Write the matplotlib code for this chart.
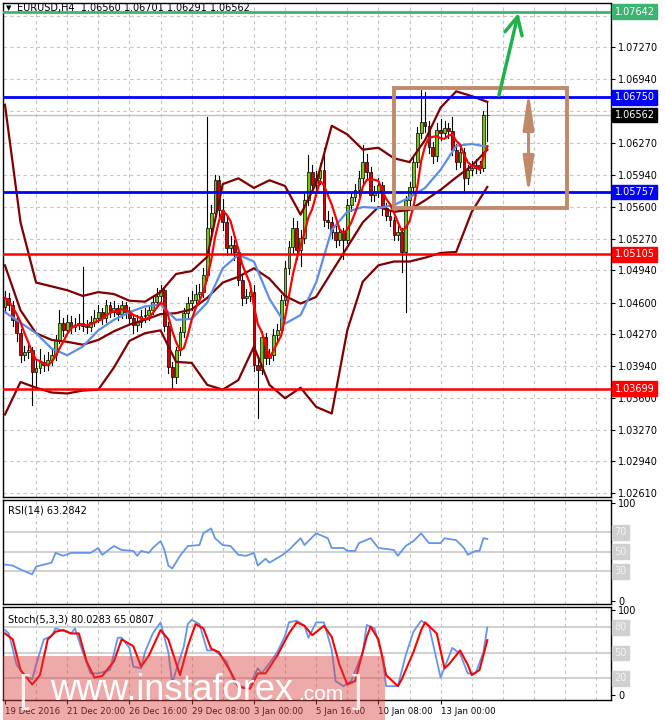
import numpy as np
import pandas as pd
import matplotlib
matplotlib.use('Agg')
import matplotlib.pyplot as plt
from matplotlib.patches import Rectangle

# ---- candles (EURUSD H4) ----
first_open = 1.0455
closes = [1.0465, 1.0458, 1.0442, 1.0428, 1.0405, 1.0408, 1.0410, 1.0387,
          1.0392, 1.0398, 1.0395, 1.0400, 1.0405, 1.0421, 1.0439, 1.0431,
          1.0440, 1.0434, 1.0437, 1.0439, 1.0436, 1.0435, 1.0440, 1.0444,
          1.0450, 1.0444, 1.0457, 1.0450, 1.0454, 1.0448, 1.0457, 1.0450,
          1.0444, 1.0437, 1.0440, 1.0446, 1.0447, 1.0452, 1.0461, 1.0467,
          1.0473, 1.0436, 1.0393, 1.0382, 1.0410, 1.0429, 1.0449, 1.0460,
          1.0463, 1.0469, 1.0471, 1.0489, 1.0538, 1.0554, 1.0588, 1.0557,
          1.0544, 1.0517, 1.0520, 1.0513, 1.0484, 1.0465, 1.0467, 1.0471,
          1.0395, 1.0390, 1.0424, 1.0402, 1.0405, 1.0426, 1.0431, 1.0463,
          1.0496, 1.0518, 1.0538, 1.0515, 1.0528, 1.0567, 1.0597, 1.0583,
          1.0590, 1.0599, 1.0546, 1.0544, 1.0534, 1.0526, 1.0534, 1.0526,
          1.0562, 1.0570, 1.0578, 1.0590, 1.0607, 1.0597, 1.0573, 1.0576,
          1.0583, 1.0559, 1.0551, 1.0546, 1.0531, 1.0534, 1.0513, 1.0567,
          1.0581, 1.0607, 1.0637, 1.0649, 1.0645, 1.0623, 1.0613, 1.0641,
          1.0637, 1.0643, 1.0639, 1.0620, 1.0607, 1.0618, 1.0590, 1.0599,
          1.0601, 1.0604, 1.0601, 1.0656, 1.06562]
highs = [1.0472, 1.0470, 1.0462, 1.0446, 1.0432, 1.0415, 1.0418, 1.0414,
         1.0400, 1.0412, 1.0405, 1.0408, 1.0412, 1.0426, 1.0452, 1.0444,
         1.0447, 1.0446, 1.0444, 1.0448, 1.0497, 1.0442, 1.0446, 1.0452,
         1.0457, 1.0454, 1.0463, 1.0461, 1.0462, 1.0458, 1.0462, 1.0461,
         1.0455, 1.0448, 1.0447, 1.0452, 1.0454, 1.0458, 1.0466, 1.0475,
         1.0478, 1.0476, 1.0440, 1.0398, 1.0414, 1.0434, 1.0454, 1.0466,
         1.0472, 1.0478, 1.0480, 1.0496, 1.0654, 1.0562, 1.0594, 1.0592,
         1.0568, 1.0550, 1.0530, 1.0526, 1.0518, 1.0490, 1.0474, 1.0480,
         1.0478, 1.0404, 1.0430, 1.0428, 1.0412, 1.0432, 1.0438, 1.0468,
         1.0504, 1.0524, 1.0548, 1.0545, 1.0536, 1.0574, 1.0614, 1.0604,
         1.0598, 1.0606, 1.0622, 1.0556, 1.0550, 1.0540, 1.0540, 1.0538,
         1.0568, 1.0576, 1.0584, 1.0598, 1.0625, 1.0615, 1.0602, 1.0582,
         1.0590, 1.0586, 1.0564, 1.0556, 1.0550, 1.0540, 1.0538, 1.0572,
         1.0586, 1.0612, 1.0644, 1.0682, 1.0680, 1.0650, 1.0628, 1.0648,
         1.0652, 1.0650, 1.0648, 1.0654, 1.0626, 1.0624, 1.0622, 1.0604,
         1.0608, 1.0610, 1.0608, 1.0660, 1.06701]
lows = [1.0450, 1.0452, 1.0436, 1.0420, 1.0398, 1.0400, 1.0402, 1.0353,
        1.0370, 1.0386, 1.0388, 1.0390, 1.0395, 1.0400, 1.0418, 1.0425,
        1.0427, 1.0428, 1.0430, 1.0432, 1.0430, 1.0428, 1.0430, 1.0436,
        1.0440, 1.0438, 1.0440, 1.0445, 1.0446, 1.0442, 1.0444, 1.0444,
        1.0438, 1.0428, 1.0430, 1.0434, 1.0440, 1.0442, 1.0448, 1.0456,
        1.0462, 1.0430, 1.0386, 1.0371, 1.0376, 1.0405, 1.0424, 1.0444,
        1.0452, 1.0458, 1.0462, 1.0466, 1.0484, 1.0530, 1.0548, 1.0550,
        1.0536, 1.0510, 1.0512, 1.0505, 1.0478, 1.0458, 1.0460, 1.0462,
        1.0388, 1.0339, 1.0385, 1.0396, 1.0396, 1.0400, 1.0420, 1.0426,
        1.0458, 1.0490, 1.0512, 1.0506, 1.0498, 1.0522, 1.0562, 1.0576,
        1.0578, 1.0584, 1.0540, 1.0538, 1.0528, 1.0518, 1.0520, 1.0506,
        1.0522, 1.0556, 1.0566, 1.0572, 1.0585, 1.0590, 1.0566, 1.0566,
        1.0570, 1.0552, 1.0546, 1.0540, 1.0525, 1.0526, 1.0492, 1.0450,
        1.0560, 1.0576, 1.0602, 1.0632, 1.0638, 1.0616, 1.0606, 1.0608,
        1.0630, 1.0632, 1.0632, 1.0614, 1.0600, 1.0602, 1.0578, 1.0584,
        1.0594, 1.0596, 1.0596, 1.0598, 1.06291]

# ---- indicator lines, read every 4 bars ----
line_bars = list(range(0, 125, 4))
bb_upper = [1.0667, 1.0544, 1.0481, 1.0477, 1.0473, 1.0467, 1.0471, 1.0469,
            1.0462, 1.0461, 1.0471, 1.0490, 1.0493, 1.0508, 1.0584, 1.0590,
            1.0580, 1.0588, 1.0582, 1.0552, 1.0585, 1.0645, 1.0636, 1.0620,
            1.0622, 1.0611, 1.0607, 1.0630, 1.0664, 1.0681, 1.0676, 1.0670]
bb_mid = [1.0499, 1.0452, 1.0428, 1.0421, 1.0419, 1.0416, 1.0421, 1.0430,
          1.0437, 1.0442, 1.0448, 1.0449, 1.0453, 1.0465, 1.0481, 1.0487,
          1.0496, 1.0485, 1.0467, 1.0459, 1.0466, 1.0492, 1.0518, 1.0544,
          1.0560, 1.0555, 1.0557, 1.0567, 1.0578, 1.0591, 1.0603, 1.0620]
bb_lower = [1.0343, 1.0377, 1.0371, 1.0366, 1.0365, 1.0368, 1.0369, 1.0392,
            1.0420, 1.0428, 1.0431, 1.0398, 1.0397, 1.0374, 1.0369, 1.0379,
            1.0414, 1.0374, 1.0360, 1.0371, 1.0351, 1.0344, 1.0431, 1.0482,
            1.0499, 1.0503, 1.0503, 1.0507, 1.0512, 1.0513, 1.0555, 1.0581]
ma_slow = [1.0450, 1.0439, 1.0428, 1.0412, 1.0405, 1.0414, 1.0431, 1.0442,
           1.0450, 1.0456, 1.0458, 1.0442, 1.0443, 1.0460, 1.0496, 1.0510,
           1.0503, 1.0464, 1.0438, 1.0447, 1.0481, 1.0536, 1.0555, 1.0560,
           1.0559, 1.0562, 1.0570, 1.0580, 1.0599, 1.0624, 1.0626, 1.0623]

# ---- levels ----
target_level = 1.07642
blue_levels = [1.06750, 1.05757]
red_levels = [1.05105, 1.03699]
bid = 1.06562
price_ticks = [1.02610, 1.02940, 1.03270, 1.03600, 1.03940, 1.04270, 1.04600,
               1.04940, 1.05270, 1.05600, 1.05940, 1.06270, 1.06600, 1.06940,
               1.07270, 1.07600]
hidden_ticks = [1.06600, 1.07600]  # covered by the price boxes

# ---- RSI(14) ----
rsi_bars = [0, 2, 4, 7, 8, 12, 13, 15, 17, 22, 24, 25, 28, 30, 33, 34, 35, 37,
            38, 40, 41, 42, 43, 45, 47, 50, 51, 53, 54, 56, 58, 60, 62, 64, 65,
            67, 68, 71, 73, 76, 77, 80, 83, 84, 87, 88, 90, 91, 94, 96, 100,
            101, 103, 105, 107, 109, 112, 113, 116, 118, 119, 121, 122, 123, 124]
rsi_vals = [37, 36, 32, 27, 35, 39, 49, 46, 49, 49, 54, 47, 56, 52, 51, 46, 51,
            49, 54, 61, 52, 36, 33, 46, 56, 57, 69, 74, 64, 57, 56, 47, 46, 49,
            36, 43, 39, 46, 52, 64, 57, 69, 64, 54, 54, 51, 51, 59, 64, 54, 52,
            46, 56, 61, 69, 59, 59, 64, 62, 54, 47, 51, 51, 64, 63.3]

# ---- Stoch(5,3,3) ----
k_bars = [0, 1, 3, 5, 7, 8, 10, 12, 13, 15, 17, 18, 20, 22, 24, 27, 29, 30, 32,
          33, 35, 36, 38, 40, 42, 43, 46, 47, 48, 50, 52, 54, 57, 59, 62, 63,
          65, 66, 68, 70, 72, 73, 75, 77, 78, 80, 82, 84, 85, 87, 89, 92, 93,
          95, 97, 98, 101, 103, 105, 107, 109, 112, 115, 117, 119, 121, 123, 124]
k_vals = [77, 73, 36, 24, 19, 36, 66, 70, 79, 76, 73, 79, 51, 26, 26, 30, 68,
          68, 56, 34, 32, 51, 73, 86, 51, 15, 58, 84, 89, 84, 53, 53, 40, 15,
          8, 13, 32, 26, 38, 51, 70, 86, 88, 82, 68, 86, 86, 54, 17, 11, 17,
          51, 83, 79, 47, 11, 11, 47, 75, 88, 82, 21, 56, 49, 26, 26, 51, 80]
d_bars = [0, 2, 4, 7, 9, 11, 13, 15, 17, 19, 21, 23, 25, 28, 30, 33, 35, 37, 40,
          42, 45, 47, 49, 51, 53, 55, 58, 60, 63, 65, 67, 70, 73, 75, 77, 79,
          82, 84, 86, 88, 90, 93, 94, 96, 98, 101, 102, 105, 107, 108, 111,
          113, 114, 117, 119, 120, 122, 124]
d_vals = [73, 66, 30, 13, 24, 66, 75, 77, 73, 73, 40, 21, 23, 40, 66, 58, 34,
          47, 77, 66, 24, 58, 84, 79, 55, 51, 28, 10, 8, 26, 26, 47, 73, 86, 82,
          71, 82, 69, 36, 13, 17, 69, 81, 66, 24, 11, 19, 51, 77, 86, 73, 32,
          36, 53, 36, 24, 30, 65.1]

date_bars = [0, 16, 32, 48, 64, 80, 96, 112]
date_labels = ['19 Dec 2016', '21 Dec 20:00', '26 Dec 16:00', '29 Dec 08:00',
               '3 Jan 00:00', '5 Jan 16:00', '10 Jan 08:00', '13 Jan 00:00']

# -------------------------------------------------------------------------
W, H = 665, 720
fig = plt.figure(figsize=(W / 100, H / 100), dpi=100)
fig.patch.set_facecolor('white')

def px_axes(top, bottom):
    return fig.add_axes([3 / W, 1 - bottom / H, 608 / W, (bottom - top) / H])

ax1 = px_axes(3, 497)
ax2 = px_axes(500, 604)
ax3 = px_axes(607, 700)

xmax = -0.5 + 608 / 3.89
grid_col = '#c4c4c4'
for ax in (ax1, ax2, ax3):
    ax.set_xlim(-0.5, xmax)
    for s in ax.spines.values():
        s.set_color('black')
        s.set_linewidth(1)
    ax.yaxis.tick_right()
    ax.tick_params(axis='y', labelsize=7, length=3, pad=2, width=0.8)
    for b in range(8, int(xmax), 8):
        ax.axvline(b, color=grid_col, lw=0.8, ls=(0, (3, 3)), zorder=0)

# ---- main chart ----
ax1.set_ylim(1.02567, 1.07734)
ax1.set_yticks(price_ticks)
ax1.set_yticklabels(['' if t in hidden_ticks else '%.5f' % t for t in price_ticks])
ax1.set_xticks([])
for t in price_ticks:
    ax1.axhline(t, color=grid_col, lw=0.8, ls=(0, (3, 3)), zorder=0)

opens = [first_open] + closes[:-1]
for i, (o, h, l, c) in enumerate(zip(opens, highs, lows, closes)):
    ax1.plot([i, i], [l, h], color='black', lw=0.8, zorder=2)
    col = '#72c800' if c >= o else '#d40000'
    body = max(abs(c - o), 0.00006)
    ax1.add_patch(Rectangle((i - 0.36, min(o, c)), 0.72, body, fc=col,
                            ec='black', lw=0.5, zorder=3))

fast_ma = pd.Series(closes).rolling(5, min_periods=1).mean()
ax1.plot(line_bars, bb_upper, color='#800000', lw=1.6, zorder=4)
ax1.plot(line_bars, bb_mid, color='#800000', lw=1.6, zorder=4)
ax1.plot(line_bars, bb_lower, color='#800000', lw=1.6, zorder=4)
ax1.plot(line_bars, ma_slow, color='#5b8ee6', lw=1.6, zorder=4)
ax1.plot(range(len(closes)), fast_ma, color='red', lw=1.6, zorder=5)

ax1.axhline(bid, color='#c0c0c0', lw=1, zorder=1)
ax1.axhline(target_level, color='#3cb371', lw=2, zorder=6)
for lv in blue_levels:
    ax1.axhline(lv, color='#0000ff', lw=2, zorder=6)
for lv in red_levels:
    ax1.axhline(lv, color='#ff0000', lw=1.8, zorder=6)

# analysis box and arrows
brown = '#c08a6a'
ax1.add_patch(Rectangle((100.0, 1.0559), 44.4, 0.0125, fill=False, ec=brown,
                        lw=2.8, zorder=7))
ax1.annotate('', xy=(134.6, 1.0572), xytext=(134.6, 1.0682),
             arrowprops=dict(arrowstyle='<|-|>,head_length=1.1,head_width=0.16',
                             mutation_scale=20, color=brown, lw=2.2,
                             shrinkA=0, shrinkB=0), zorder=7)
ax1.annotate('', xy=(132.0, 1.0763), xytext=(127.0, 1.0677),
             arrowprops=dict(arrowstyle='->,head_length=0.7,head_width=0.35',
                             mutation_scale=18, color='#22b04a', lw=2.5,
                             shrinkA=0, shrinkB=0), zorder=7)

def price_box(ax, y, text, bg, fg='white'):
    ax.text(1.006, y, text, transform=ax.get_yaxis_transform(), ha='left',
            va='center', fontsize=7, color=fg, clip_on=False, zorder=8,
            bbox=dict(boxstyle='square,pad=0.25', fc=bg, ec=bg))

price_box(ax1, target_level, '1.07642', '#3cb371')
price_box(ax1, blue_levels[0], '1.06750', '#0000ff')
price_box(ax1, bid, '1.06562', 'black')
price_box(ax1, blue_levels[1], '1.05757', '#0000ff')
price_box(ax1, red_levels[0], '1.05105', '#ff0000')
price_box(ax1, red_levels[1], '1.03699', '#ff0000')

fig.text(6 / W, 1 - 8 / H, '\u25bc', fontsize=5, va='center', ha='left')
fig.text(17 / W, 1 - 8 / H, 'EURUSD,H4  1.06560 1.06701 1.06291 1.06562',
         fontsize=7, va='center', ha='left')

# ---- RSI ----
ax2.set_ylim(-3.3, 103.1)
ax2.set_xticks([])
ax2.set_yticks([0, 100])
for lv in (70, 50, 30):
    ax2.axhline(lv, color='#c8c8c8', lw=1.2, zorder=1)
    price_box(ax2, lv, str(lv), '#d0d0d0', '#f4f4f4')
ax2.plot(rsi_bars, rsi_vals, color='#6495ed', lw=1.3, zorder=3)
ax2.text(0.008, 0.9, 'RSI(14) 63.2842', transform=ax2.transAxes, fontsize=7,
         va='center')
ax2.axhline(-3.3, color=grid_col, lw=0.8, ls=(0, (3, 3)))

# ---- Stochastic ----
ax3.set_ylim(-5.3, 104.1)
ax3.set_yticks([0, 100])
for lv in (80, 50, 20):
    ax3.axhline(lv, color='#c8c8c8', lw=1.2, zorder=1)
    price_box(ax3, lv, str(lv), '#d0d0d0', '#f4f4f4')
ax3.plot(k_bars, k_vals, color='#6495ed', lw=1.3, zorder=3)
ax3.plot(d_bars, d_vals, color='red', lw=1.5, zorder=4)
ax3.text(0.008, 0.87, 'Stoch(5,3,3) 80.0283 65.0807', transform=ax3.transAxes,
         fontsize=7, va='center')
ax3.set_xticks(date_bars)
ax3.set_xticklabels(date_labels, ha='left')
ax3.tick_params(axis='x', labelsize=6.2, length=3, pad=2)

# ---- watermark ----
fig.add_artist(Rectangle((3 / W, 0), 382 / W, 64 / H, transform=fig.transFigure,
                         fc=(0.86, 0.25, 0.25), ec='none', alpha=0.45, zorder=10))
wm = dict(color='white', va='baseline', ha='left', zorder=11,
          family='Liberation Sans')
fig.text(18 / W, 18 / H, '[', fontsize=28, alpha=0.85, **wm)
fig.text(50 / W, 20 / H, 'www.instaforex', fontsize=26, **wm)
fig.text(298 / W, 20 / H, '.com', fontsize=15, **wm)
fig.text(352 / W, 18 / H, ']', fontsize=28, alpha=0.85, **wm)

fig.savefig('out.png', dpi=100, facecolor='white')
